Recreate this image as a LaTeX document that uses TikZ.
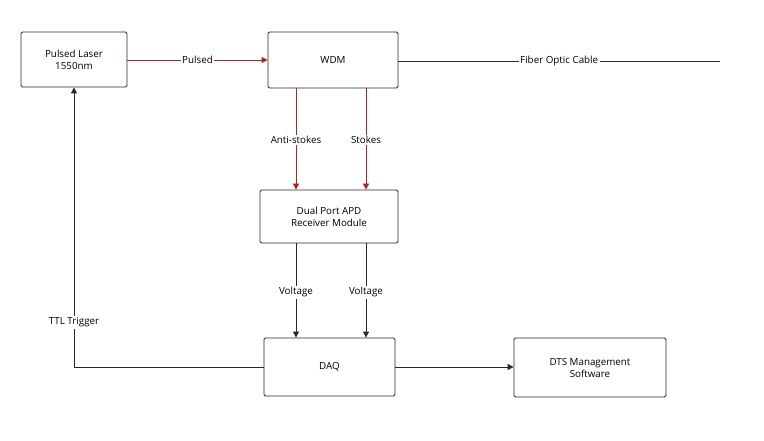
\documentclass[tikz,border=0pt]{standalone}
\usepackage{fontspec}
\setmainfont{Open Sans}
\usetikzlibrary{positioning,arrows.meta}
\definecolor{sigred}{RGB}{192,30,30}
\definecolor{linegray}{RGB}{40,40,40}
\tikzstyle{block}=[draw=linegray, thick, rounded corners=1.5pt, align=center, font=\fontsize{9.8}{12}\selectfont]
\tikzstyle{red_edge}=[-{Triangle[length=6pt,width=6pt]}, draw=sigred, thick]
\tikzstyle{blk_edge}=[-{Triangle[length=6pt,width=6pt]}, draw=linegray, thick]
\tikzstyle{lbl}=[fill=white, inner sep=1.5pt, font=\fontsize{9.8}{12}\selectfont]
\begin{document}
\begin{tikzpicture}[x=1pt,y=-1pt]
    \useasboundingbox (0,0) rectangle (764,441);
    % blocks
    \node[style=block, minimum width=106pt, minimum height=55pt] (laser) at (74,59.5) {Pulsed Laser\\1550nm};
    \node[style=block, minimum width=130pt, minimum height=56pt] (wdm) at (333,60) {WDM};
    \node[style=block, minimum width=138pt, minimum height=53pt] (apd) at (329,216.5) {Dual Port APD\\Receiver Module};
    \node[style=block, minimum width=131pt, minimum height=58pt] (daq) at (329.5,367) {DAQ};
    \node[style=block, minimum width=152pt, minimum height=59pt] (dts) at (590,367.5) {DTS Management\\Software};
    \coordinate (fiberend) at (720,61);
    % connectors
    \draw[style=red_edge] (laser.east |- 0,60) -- node[style=lbl] {Pulsed} (wdm.west |- 0,60);
    \draw[draw=linegray, thick] (wdm.east |- 0,61) -- node[style=lbl, pos=0.5] {Fiber Optic Cable} (fiberend);
    \draw[style=red_edge] (wdm.south -| 296,0) -- node[style=lbl, pos=0.51] {Anti-stokes} (apd.north -| 296,0);
    \draw[style=red_edge] (wdm.south -| 366,0) -- node[style=lbl, pos=0.51] {Stokes} (apd.north -| 366,0);
    \draw[style=blk_edge] (apd.south -| 296,0) -- node[style=lbl, pos=0.52] {Voltage} (daq.north -| 296,0);
    \draw[style=blk_edge] (apd.south -| 366,0) -- node[style=lbl, pos=0.52] {Voltage} (daq.north -| 366,0);
    \draw[style=blk_edge] (daq.east) -- (dts.west |- daq.east);
    \draw[style=blk_edge] (daq.west) -| node[style=lbl, pos=0.58] {TTL Trigger} (laser.south);
\end{tikzpicture}
\end{document}
